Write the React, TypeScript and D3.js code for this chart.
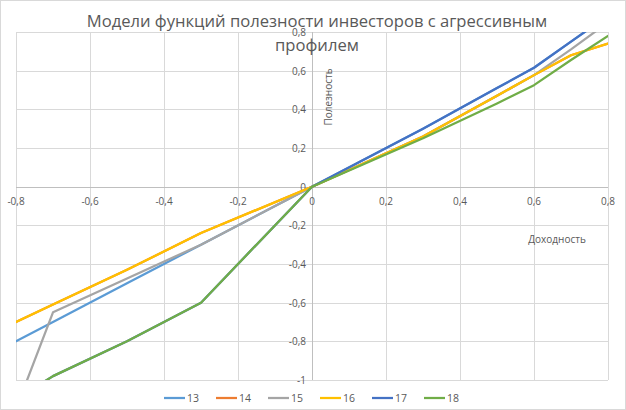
import React, { useEffect, useRef } from "react";
import * as d3 from "d3";

// x values shared by every series (доходность)
const returns = [-0.8, -0.7, -0.5, -0.3, 0, 0.3, 0.5, 0.6, 0.7, 0.8];

const series13 = [-0.8, -0.7, -0.5, -0.3, 0, 0.3, 0.51, 0.615, 0.75, 0.885];
const series14 = [-0.7, -0.61, -0.43, -0.24, 0, 0.26, 0.47, 0.577, 0.68, 0.74];
const series15 = [-1.15, -0.65, -0.475, -0.3, 0, 0.26, 0.47, 0.577, 0.71, 0.85];
const series16 = [-0.7, -0.61, -0.43, -0.24, 0, 0.26, 0.47, 0.577, 0.68, 0.74];
const series17 = [-1.1, -0.98, -0.8, -0.6, 0, 0.3, 0.51, 0.615, 0.75, 0.885];
const series18 = [-1.1, -0.98, -0.8, -0.6, 0, 0.25, 0.43, 0.525, 0.655, 0.78];

const seriesNames = ["13", "14", "15", "16", "17", "18"];
const seriesValues = [series13, series14, series15, series16, series17, series18];
const seriesColors = ["#5B9BD5", "#ED7D31", "#A5A5A5", "#FFC000", "#4472C4", "#70AD47"];

const xTicks = [-0.8, -0.6, -0.4, -0.2, 0, 0.2, 0.4, 0.6, 0.8];
const yTicks = [-1, -0.8, -0.6, -0.4, -0.2, 0, 0.2, 0.4, 0.6, 0.8];

const titleLines = ["Модели функций полезности инвесторов с агрессивным", "профилем"];

const fmt = (d: number) => String(Math.round(d * 10) / 10).replace(".", ",");

const App: React.FC = () => {
  const ref = useRef<SVGSVGElement>(null);

  useEffect(() => {
    document.body.style.margin = "0";
    drawChart();
  }, []);

  const drawChart = () => {
    const width = 626;
    const height = 410;
    const font = "'Open Sans', 'Noto Sans', sans-serif";

    const x = d3.scaleLinear().domain([-0.8, 0.8]).range([16, 608]);
    const y = d3.scaleLinear().domain([-1, 0.8]).range([380, 32]);

    const svg = d3.select(ref.current);
    svg.selectAll("*").remove();

    // chart background + border
    svg
      .append("rect")
      .attr("x", 0.5)
      .attr("y", 0.5)
      .attr("width", width - 1)
      .attr("height", height - 1)
      .attr("fill", "white")
      .attr("stroke", "#D9D9D9");

    // gridlines
    const grid = svg.append("g").attr("stroke", "#D9D9D9").attr("stroke-width", 1);
    grid
      .selectAll("line.v")
      .data(xTicks)
      .join("line")
      .attr("x1", (d) => Math.round(x(d)) + 0.5)
      .attr("x2", (d) => Math.round(x(d)) + 0.5)
      .attr("y1", y(0.8))
      .attr("y2", y(-1));
    grid
      .selectAll("line.h")
      .data(yTicks)
      .join("line")
      .attr("x1", x(-0.8))
      .attr("x2", x(0.8))
      .attr("y1", (d) => Math.round(y(d)) + 0.5)
      .attr("y2", (d) => Math.round(y(d)) + 0.5);

    // axis lines through zero
    svg
      .append("line")
      .attr("x1", x(-0.8))
      .attr("x2", x(0.8))
      .attr("y1", Math.round(y(0)) + 0.5)
      .attr("y2", Math.round(y(0)) + 0.5)
      .attr("stroke", "#BFBFBF");
    svg
      .append("line")
      .attr("x1", Math.round(x(0)) + 0.5)
      .attr("x2", Math.round(x(0)) + 0.5)
      .attr("y1", y(0.8))
      .attr("y2", y(-1))
      .attr("stroke", "#BFBFBF");

    // tick labels
    const labels = svg
      .append("g")
      .attr("font-family", font)
      .attr("font-size", 10)
      .attr("fill", "#595959");
    labels
      .selectAll("text.x")
      .data(xTicks)
      .join("text")
      .attr("x", (d) => x(d))
      .attr("y", y(0) + 18)
      .attr("text-anchor", "middle")
      .text((d) => fmt(d));
    labels
      .selectAll("text.y")
      .data(yTicks)
      .enter()
      .append("text")
      .attr("x", x(0) - 6)
      .attr("y", (d) => y(d) + 4)
      .attr("text-anchor", "end")
      .text((d) => fmt(d));

    // clip to plot area
    svg
      .append("clipPath")
      .attr("id", "plot-clip")
      .append("rect")
      .attr("x", x(-0.8))
      .attr("y", y(0.8))
      .attr("width", x(0.8) - x(-0.8))
      .attr("height", y(-1) - y(0.8));

    const line = d3
      .line<number>()
      .x((_, i) => x(returns[i]))
      .y((d) => y(d));

    svg
      .append("g")
      .attr("clip-path", "url(#plot-clip)")
      .selectAll("path")
      .data(seriesValues)
      .join("path")
      .attr("d", (d) => line(d))
      .attr("fill", "none")
      .attr("stroke", (_, i) => seriesColors[i])
      .attr("stroke-width", 2.25)
      .attr("stroke-linejoin", "round")
      .attr("stroke-linecap", "round");

    // axis titles
    svg
      .append("text")
      .attr("transform", `translate(${x(0) + 20}, 97) rotate(-90)`)
      .attr("text-anchor", "middle")
      .attr("font-family", font)
      .attr("font-size", 10)
      .attr("fill", "#595959")
      .text("Полезность");
    svg
      .append("text")
      .attr("x", 557)
      .attr("y", 243)
      .attr("text-anchor", "middle")
      .attr("font-family", font)
      .attr("font-size", 10)
      .attr("fill", "#595959")
      .text("Доходность");

    // title (sits over the plot like the original, partly covering "0,8")
    svg
      .append("g")
      .selectAll("text")
      .data(titleLines)
      .join("text")
      .attr("x", 317)
      .attr("y", (_, i) => 27 + i * 24)
      .attr("text-anchor", "middle")
      .attr("font-family", font)
      .attr("font-size", 16.6)
      .attr("fill", "#595959")
      .text((d) => d);

    // legend
    const legend = svg
      .append("g")
      .selectAll("g")
      .data(seriesNames)
      .join("g")
      .attr("transform", (_, i) => `translate(${164 + i * 52}, 398)`);
    legend
      .append("line")
      .attr("x1", 0)
      .attr("x2", 21)
      .attr("stroke", (_, i) => seriesColors[i])
      .attr("stroke-width", 2.25);
    legend
      .append("text")
      .attr("x", 23)
      .attr("y", 4)
      .attr("font-family", font)
      .attr("font-size", 10.5)
      .attr("fill", "#595959")
      .text((d) => d);
  };

  return <svg ref={ref} width={626} height={410} style={{ display: "block" }} />;
};

export default App;
